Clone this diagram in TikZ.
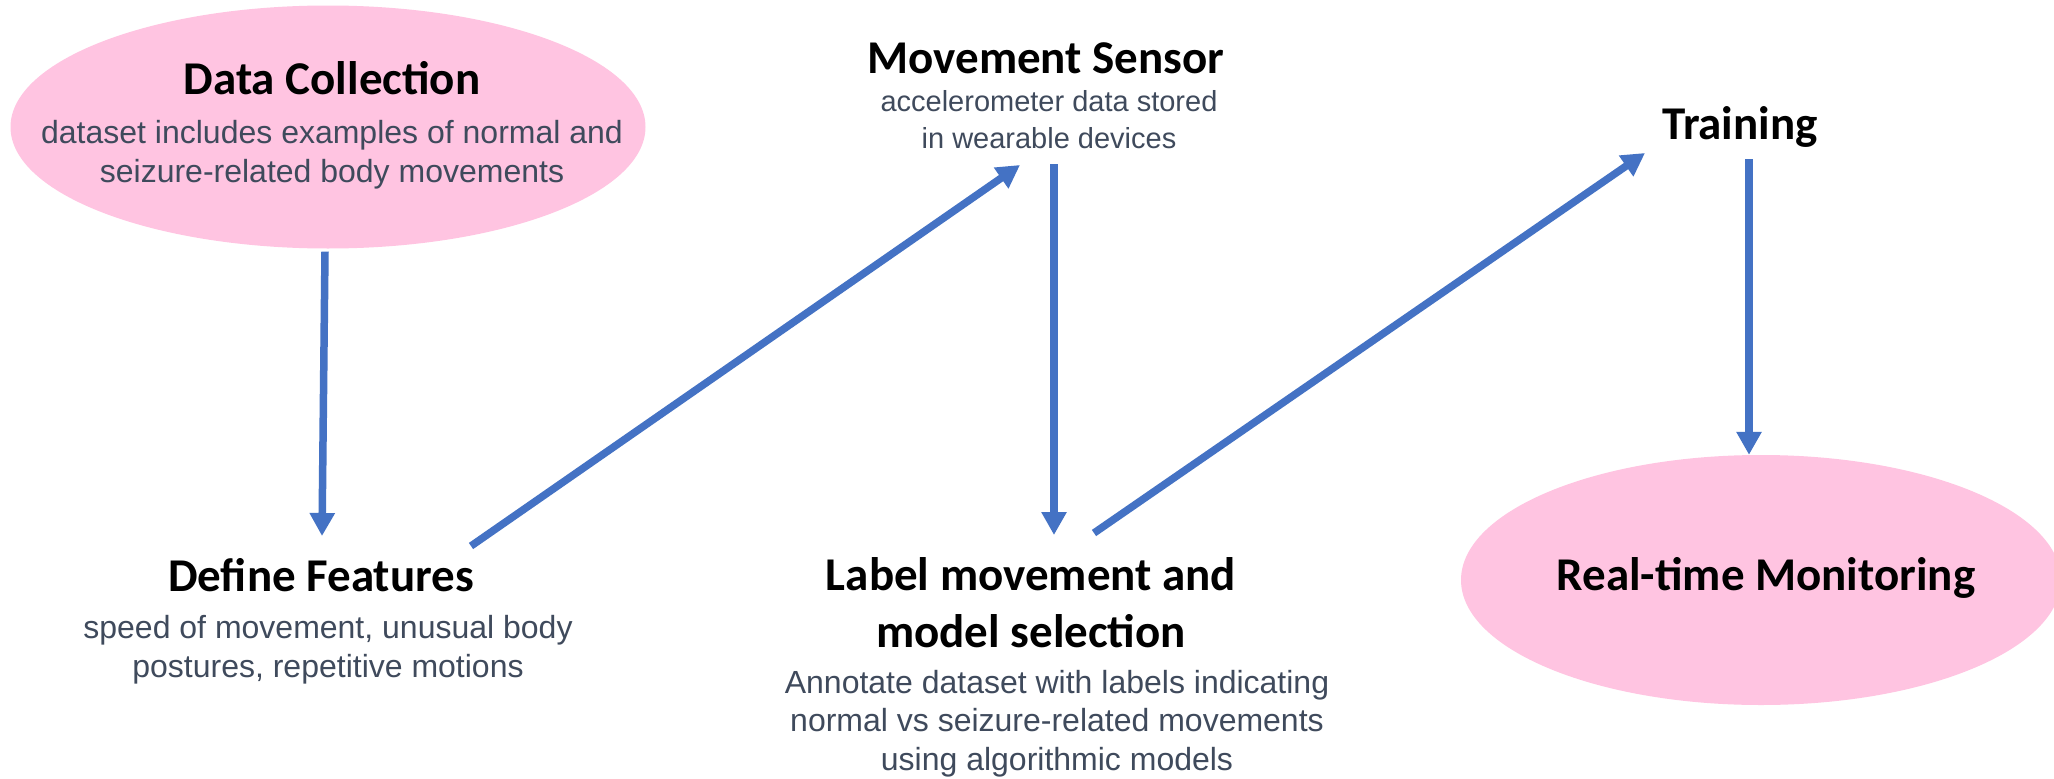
\documentclass[tikz,border=0pt]{standalone}
\usepackage{fontspec}
\setmainfont{Liberation Sans}
\newfontfamily\titlefont{Carlito}
\usetikzlibrary{arrows.meta,shapes.geometric}
\definecolor{arrowblue}{HTML}{4472C4}
\definecolor{pinkfill}{HTML}{FFC4E1}
\definecolor{subgray}{HTML}{3F4A5C}
\begin{document}
\begin{tikzpicture}[x=1pt,y=-1pt,
  blob/.style={ellipse, fill=pinkfill, draw=none, inner sep=0pt},
  ttl/.style={anchor=base, inner sep=0pt, align=center, font=\titlefont\bfseries\fontsize{47}{57}\selectfont, text=black},
  sub/.style={anchor=base, inner sep=0pt, align=center, font=\fontsize{32}{38.5}\selectfont, text=subgray},
  subsmall/.style={sub, font=\fontsize{29}{37}\selectfont},
  arr/.style={draw=arrowblue, line width=7.5pt, -{Triangle[length=23pt,width=24pt]}}]
\path[use as bounding box, fill=white] (0,0) rectangle (2054,779);

% ellipses
\node[blob, minimum width=635pt, minimum height=243pt] (dc) at (328,127) {};
\begin{scope}
\clip (0,0) rectangle (2054,779);
\node[blob, minimum width=600pt, minimum height=250pt] (rt) at (1761,580) {};
\end{scope}

% texts (base = baseline of the last line)
\node[ttl] (dcT) at (332,94) {Data Collection};
\node[sub] (dcS) at (332,182) {dataset includes examples of normal and\\seizure-related body movements};

\node[ttl] (msT) at (1046,73) {Movement Sensor};
\node[subsmall] (msS) at (1049,148) {accelerometer data stored\\in wearable devices};

\node[ttl] (trT) at (1740,139) {Training};

\node[ttl] (rtT) at (1766,590) {Real-time Monitoring};

\node[ttl] (dfT) at (321,591) {Define Features};
\node[sub] (dfS) at (328,677) {speed of movement, unusual body\\postures, repetitive motions};

\node[ttl] (lmT) at (1031,647) {Label movement and\\model selection};
\node[sub] (lmS) at (1057,770) {Annotate dataset with labels indicating\\normal vs seizure-related movements\\using algorithmic models};

% ports
\coordinate (dfIn) at (322,536);
\coordinate (dfOut) at (471,546);
\coordinate (msIn) at (1020,165);
\coordinate (msOut) at (1054,164);
\coordinate (lmIn) at (1054,535);
\coordinate (lmOut) at (1094,533);
\coordinate (trIn) at (1645,153);
\coordinate (trOut) at (1749,159);

% connectors
\draw[arr] ([shift={(-3,3)}]dc.south) -- (dfIn);
\draw[arr] (dfOut) -- (msIn);
\draw[arr] (msOut) -- (lmIn);
\draw[arr] (lmOut) -- (trIn);
\draw[arr] (trOut) -- (rt.north -| trOut);
\end{tikzpicture}
\end{document}
